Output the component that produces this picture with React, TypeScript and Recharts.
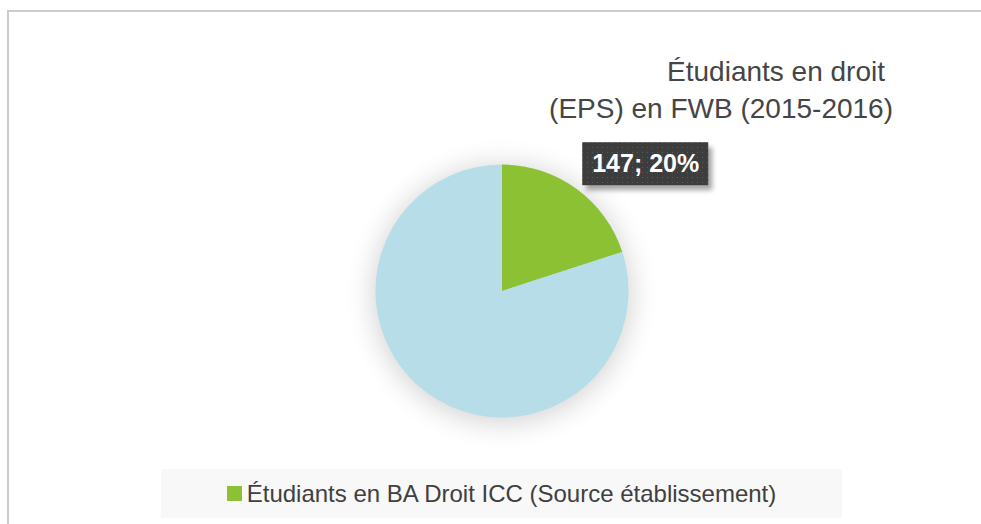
import { Cell, Legend, Pie, PieChart } from "recharts";

const names = [
  "Étudiants en BA Droit ICC (Source établissement)",
  "Autres étudiants en droit (EPS)",
];
const values = [147, 588];
const colors = ["#8bc133", "#b7dde8"];
const legendShown = ["Étudiants en BA Droit ICC (Source établissement)"];
const titleLines = ["Étudiants en droit", "(EPS) en FWB (2015-2016)"];

const data = names.map((name, i) => ({ name, value: values[i] }));

const FONT = '"Liberation Sans", Arial, sans-serif';
const RAD = Math.PI / 180;

function SliceLabel(props: any) {
  const { cx, cy, midAngle, outerRadius, value, percent, index } = props;
  if (index !== 0) return null;
  const r = outerRadius * 1.2;
  const x = cx + r * Math.cos(-midAngle * RAD);
  const y = cy + r * Math.sin(-midAngle * RAD);
  const bx = x - 9;
  const by = y - 26;
  return (
    <g>
      <rect x={bx + 4} y={by + 5} width={126} height={43} fill="#000" opacity={0.35} filter="url(#lblShadow)" />
      <rect x={bx} y={by} width={126} height={43} fill="url(#dots)" />
      <text
        x={bx + 10}
        y={by + 30}
        fill="#fff"
        fontFamily={FONT}
        fontSize={25}
        fontWeight={600}
      >
        {`${value}; ${Math.round(percent * 100)}%`}
      </text>
    </g>
  );
}

function LegendBox({ payload }: any) {
  const seen = new Set<string>();
  const items = (payload || []).filter((p: any) => {
    if (!legendShown.includes(p.value) || p.color !== colors[0] || seen.has(p.value)) return false;
    seen.add(p.value);
    return true;
  });
  return (
    <div
      style={{
        display: "flex",
        alignItems: "center",
        justifyContent: "center",
        height: "100%",
        background: "#f8f8f8",
      }}
    >
      {items.map((p: any) => (
        <div key={p.value} style={{ display: "flex", alignItems: "center", whiteSpace: "nowrap" }}>
          <span
            style={{
              display: "inline-block",
              flexShrink: 0,
              width: 15,
              height: 15,
              background: p.color,
              marginRight: 5,
            }}
          />
          <span style={{ fontFamily: FONT, fontSize: 24, color: "#404040" }}>{p.value}</span>
        </div>
      ))}
    </div>
  );
}

export default function App() {
  return (
    <div
      style={{
        position: "fixed",
        left: 0,
        top: 0,
        width: 981,
        height: 524,
        overflow: "hidden",
        background: "#fff",
      }}
    >
      <style>{`.pie-shadow { filter: blur(10px); opacity: 0.42; }`}</style>
      <div
        style={{
          position: "absolute",
          left: 7,
          top: 10,
          width: 1000,
          height: 600,
          border: "2px solid #cccccc",
        }}
      />
      <svg width={981} height={524} style={{ position: "absolute", left: 0, top: 0 }}>
        <text x={885} y={81} textAnchor="end" fontFamily={FONT} fontSize={28} fill="#454545">
          {titleLines[0]}
        </text>
        <text x={893} y={118} textAnchor="end" fontFamily={FONT} fontSize={28} fill="#454545">
          {titleLines[1]}
        </text>
      </svg>
      <div style={{ position: "absolute", left: 0, top: 0 }}>
        <PieChart width={981} height={524} margin={{ top: 0, right: 0, bottom: 0, left: 0 }}>
          <defs>
            <pattern id="dots" width={5} height={5} patternUnits="userSpaceOnUse">
              <rect width={5} height={5} fill="#3d3d3d" />
              <rect x={2} y={2} width={1} height={1} fill="#5a5a5a" />
            </pattern>
            <filter id="lblShadow" x="-20%" y="-30%" width="140%" height="160%">
              <feGaussianBlur stdDeviation={2.5} />
            </filter>
          </defs>
          <Pie
            className="pie-shadow"
            data={data}
            dataKey="value"
            cx={502}
            cy={294}
            outerRadius={129}
            startAngle={90}
            endAngle={-270}
            stroke="none"
            fill="#000"
            legendType="none"
            isAnimationActive={false}
          />
          <Pie
            data={data}
            dataKey="value"
            nameKey="name"
            cx={502}
            cy={291}
            outerRadius={126.5}
            startAngle={90}
            endAngle={-270}
            stroke="none"
            label={SliceLabel}
            labelLine={false}
            isAnimationActive={false}
          >
            {data.map((d, i) => (
              <Cell key={d.name} fill={colors[i]} />
            ))}
          </Pie>
          <Legend
            content={LegendBox}
            wrapperStyle={{ left: 161, top: 469, width: 681, height: 49, bottom: "auto" }}
          />
        </PieChart>
      </div>
    </div>
  );
}
